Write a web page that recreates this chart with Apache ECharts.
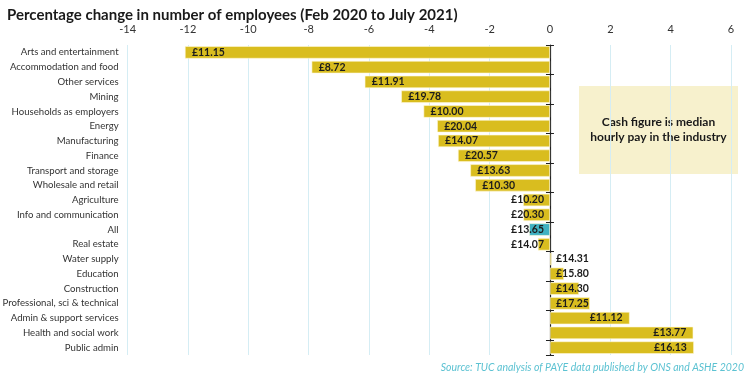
<!DOCTYPE html>
<html>
<head>
<meta charset="utf-8">
<script src="https://cdn.jsdelivr.net/npm/echarts@6/dist/echarts.min.js"></script>
<style>html,body{margin:0;padding:0;background:#fff}#c{width:750px;height:376px}</style>
</head>
<body>
<div id="c"></div>
<script>
var categories = ["Arts and entertainment","Accommodation and food","Other services","Mining","Households as employers","Energy","Manufacturing","Finance","Transport and storage","Wholesale and retail","Agriculture","Info and communication","All","Real estate","Water supply","Education","Construction","Professional, sci & technical","Admin & support services","Health and social work","Public admin"];
var changes = [-12.1,-7.9,-6.14,-4.93,-4.19,-3.74,-3.71,-3.05,-2.64,-2.48,-0.89,-0.88,-0.69,-0.4,0.05,0.46,0.96,1.32,2.64,4.75,4.77];
var pay = ["£11.15","£8.72","£11.91","£19.78","£10.00","£20.04","£14.07","£20.57","£13.63","£10.30","£10.20","£20.30","£13.65","£14.07","£14.31","£15.80","£14.30","£17.25","£11.12","£13.77","£16.13"];
var xTicks = {min:-14,max:6,interval:2};
var highlight = "All";

var FONT = "Lato, 'Noto Sans', sans-serif";
var chart = echarts.init(document.getElementById('c'), null, {renderer:'canvas'});
var data = changes.map(function(v,i){
  var big = Math.abs(v) > 2;
  var pos = v < 0 ? (big ? 'insideLeft' : 'insideRight') : (big ? 'insideRight' : 'insideLeft');
  return {
    value: v,
    itemStyle: {color: categories[i] === highlight ? '#3fb1c1' : '#d9bd1f'},
    label: {position: pos, distance: (big ? 7 : 6)}
  };
});
var catAxisBase = {type:'category', data:categories, inverse:true, splitLine:{show:false}};
chart.setOption({
  animation:false,
  title:{text:'Percentage change in number of employees (Feb 2020 to July 2021)', left:2, top:3,
    textStyle:{fontFamily:FONT, fontSize:15, fontWeight:'bold', color:'#1a1a1a'}},
  grid:{left:127.6, right:19, top:45, bottom:21, containLabel:false, outerBoundsMode:'none'},
  xAxis:{type:'value', position:'top', min:xTicks.min, max:xTicks.max, interval:xTicks.interval,
    axisLine:{show:false}, axisTick:{show:false},
    splitLine:{show:true, lineStyle:{color:'#d5edf4', width:1}},
    axisLabel:{fontFamily:FONT, fontSize:11, color:'#333', margin:10}},
  yAxis:[
    Object.assign({}, catAxisBase, {position:'left', axisLine:{show:false, onZero:false}, axisTick:{show:false},
      axisLabel:{fontFamily:FONT, fontSize:9.6, color:'#333', margin:9}}),
    Object.assign({}, catAxisBase, {position:'left', axisLine:{show:true, onZero:true, onZeroAxisIndex:0, lineStyle:{color:'#222', width:1.2}},
      axisTick:{show:true, inside:false, length:4, lineStyle:{color:'#222'}}, axisLabel:{show:false}}),
    Object.assign({}, catAxisBase, {position:'left', axisLine:{show:false, onZero:true, onZeroAxisIndex:0},
      axisTick:{show:true, inside:true, length:4, lineStyle:{color:'#222'}}, axisLabel:{show:false}})
  ],
  series:[{
    type:'bar', yAxisIndex:0, data:data, barCategoryGap:'16%',
    itemStyle:{borderColor:'#fff9d8', borderWidth:0.6},
    label:{show:true, formatter:function(p){return pay[p.dataIndex];},
      fontFamily:FONT, fontSize:10.5, fontWeight:'bold', color:'#1c1c1c'}
  }],
  graphic:[
    {type:'group', left:579, top:86, children:[
      {type:'rect', shape:{x:0,y:0,width:159,height:88}, style:{fill:'#f7f1cd'}},
      {type:'text', x:79.5, y:44, style:{text:'Cash figure is median\nhourly pay in the industry', textAlign:'center', textVerticalAlign:'middle',
        font:"bold 12px Lato, 'Noto Sans', sans-serif", fill:'#1a1a1a', lineHeight:15}}
    ]},
    {type:'text', right:6, bottom:3, style:{text:'Source: TUC analysis of PAYE data published by ONS and ASHE 2020',
      font:"italic 10.5px Lato, 'Noto Sans', sans-serif", fill:'#5cc2d2'}}
  ]
});
</script>
</body>
</html>
